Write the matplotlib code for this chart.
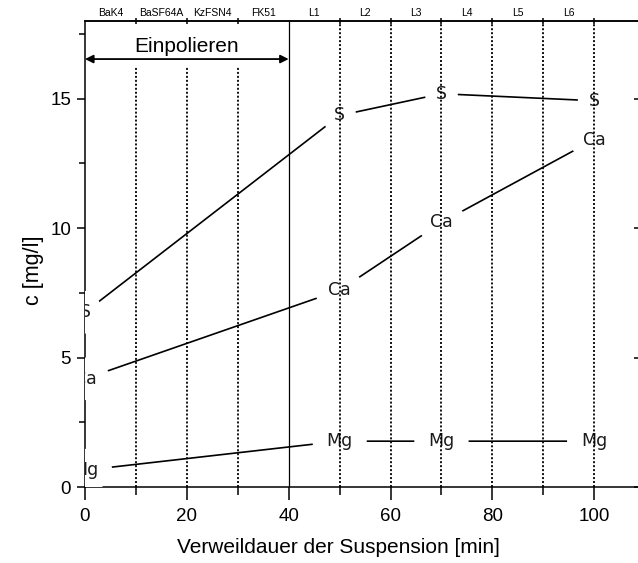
import matplotlib
matplotlib.use("Agg")
import matplotlib.pyplot as plt
from matplotlib.ticker import MultipleLocator, FixedLocator, NullFormatter, FixedFormatter

plt.rcParams['font.family'] = ['Liberation Sans', 'DejaVu Sans']

# residence time of the suspension [min]
t = [0, 50, 70, 100]
# ion concentrations [mg/l]
conc_S = [6.75, 14.35, 15.19, 14.92]
conc_Ca = [4.18, 7.6, 10.22, 13.42]
conc_Mg = [0.65, 1.77, 1.77, 1.77]

# glass / stage markers along the top axis
stage_edges = [10, 20, 30, 50, 60, 70, 80, 90, 100]
stage_names = ["BaK4", "BaSF64A", "KzFSN4", "FK51", "L1", "L2", "L3", "L4", "L5", "L6"]
stage_centers = [5, 15, 25, 35, 45, 55, 65, 75, 85, 95]
polish_end = 40
polish_label = "Einpolieren"

fig = plt.figure(figsize=(6.38, 5.63), dpi=100)
ax = fig.add_axes([85 / 638, 76 / 563, 1 - 85 / 638, (487 - 21) / 563])
ax.set_xlim(0, 108.6)
ax.set_ylim(0, 18)

# series drawn as lines with the element symbol at each point
for vals, sym in ((conc_S, "S"), (conc_Ca, "Ca"), (conc_Mg, "Mg")):
    ax.plot(t, vals, color="black", lw=1.2, zorder=2)
    for x, y in zip(t, vals):
        ax.text(x, y, sym, ha="center", va="center", fontsize=12.5,
                family=["DejaVu Sans"], color="#1a1a1a", zorder=3, clip_on=True,
                bbox=dict(boxstyle="ellipse,pad=0.35", fc="white", ec="none"))

# stage boundaries
for xe in stage_edges:
    top = 16.25 if xe < polish_end else 18
    ax.vlines(xe, 0, top, colors="black", linestyles=(0, (1.1, 1.1)), lw=1.3, zorder=4)
ax.axvline(polish_end, color="black", lw=0.9, zorder=4)

# polishing-in interval
ax.annotate("", xy=(0, 16.53), xytext=(polish_end, 16.53),
            arrowprops=dict(arrowstyle="<|-|>", color="black", lw=1.3,
                            mutation_scale=12, shrinkA=0, shrinkB=0), zorder=5)
ax.text(polish_end / 2, 17.0, polish_label, ha="center", va="center", fontsize=15)

# axes styling
ax.spines["right"].set_visible(False)
ax.xaxis.set_major_locator(FixedLocator([0, 20, 40, 60, 80, 100]))
ax.xaxis.set_minor_locator(FixedLocator([10, 30, 50, 70, 90]))
ax.yaxis.set_major_locator(MultipleLocator(5))
ax.yaxis.set_minor_locator(MultipleLocator(2.5))
ax.tick_params(axis="x", which="major", direction="out", length=9, width=1.1,
               labelsize=13.5, pad=6, top=False)
ax.tick_params(axis="x", which="minor", direction="out", length=6, width=1.1, top=False)
ax.tick_params(axis="y", which="major", direction="out", length=6, width=1.1,
               labelsize=13.5, right=True, pad=4)
ax.tick_params(axis="y", which="minor", direction="out", length=4, width=1.1)
for tk in ax.yaxis.get_major_ticks():
    tk.tick2line.set_marker(matplotlib.lines.TICKLEFT)
    tk.tick2line.set_markersize(3)
for sp in ax.spines.values():
    sp.set_linewidth(1.1)

ax.set_xlabel("Verweildauer der Suspension [min]", fontsize=15)
ax.xaxis.set_label_coords((338 - 85) / (638 - 85), -0.11)
ax.set_ylabel("c [mg/l]", fontsize=15.5)
ax.yaxis.set_label_coords(-0.075, 0.466)

# top axis: stage names between boundary ticks
top = ax.secondary_xaxis("top")
top.xaxis.set_major_locator(FixedLocator(stage_edges))
top.xaxis.set_major_formatter(NullFormatter())
top.xaxis.set_minor_locator(FixedLocator(stage_centers))
top.xaxis.set_minor_formatter(FixedFormatter(stage_names))
top.tick_params(which="major", direction="inout", length=5, width=1.1)
top.tick_params(which="minor", length=0, labelsize=7.5, pad=2)
top.spines["top"].set_linewidth(1.1)

fig.savefig("out.png", dpi=100)
